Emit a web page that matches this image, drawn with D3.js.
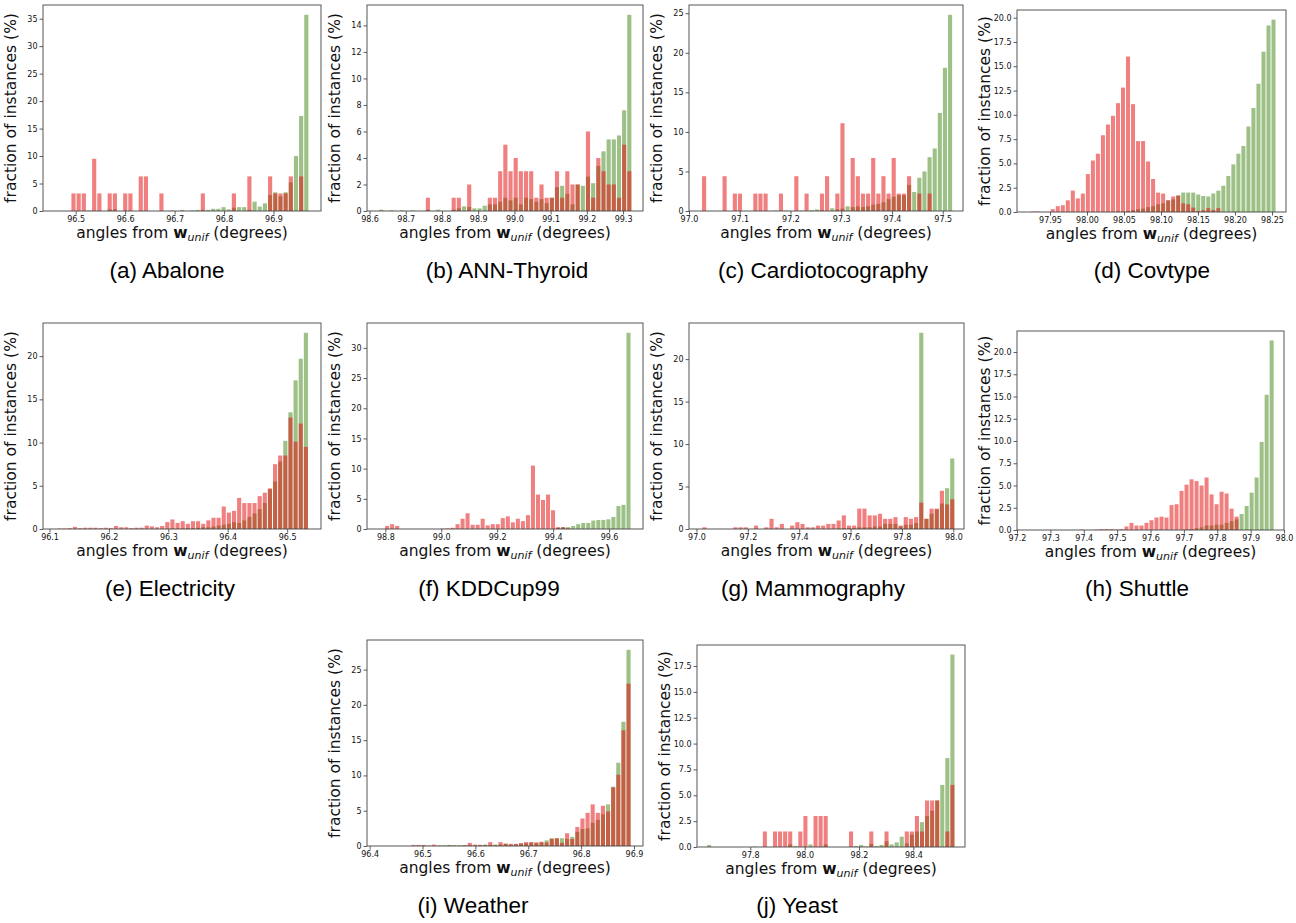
<!DOCTYPE html>
<html>
<head>
<meta charset="utf-8">
<script src="https://cdn.jsdelivr.net/npm/d3@7"></script>
<style>
  body { margin: 0; background: #fff; }
  svg { display: block; }
</style>
</head>
<body>
<div id="viz-container"></div>
<script>
// histogram heights (% of instances) per bin, green = normal, red = anomalies
const abaloneGreen = [0,0,0,0.1,0,0,0,0.3,0.3,0,0,0,0,0,0,0,0,0,0,0.1,0,0.2,0,0.1,0.2,0.2,0.2,0.4,0.4,0.7,0.3,0.6,0.7,0.7,0.2,1.7,0.8,1.4,2.9,3.4,2.7,3.4,5.2,10.0,17.3,35.7];
const abaloneRed = [3.2,3.2,3.2,0,9.5,3.2,0,3.2,3.2,0,3.2,3.2,0,6.3,6.3,0,0,3.2,0,0,0,0,0,0,0,3.2,0,0,0,0,0,3.2,0,0,6.3,0,0,0,6.3,3.2,3.2,3.2,6.3,0,6.3,0];

const thyroidGreen = [0.1,0,0.05,0,0.05,0,0.05,0,0,0.1,0,0.1,0,0,0.1,0.2,0.35,0.3,0.2,0.2,0.4,0.5,0.5,0.7,1.0,0.8,1.0,0.5,1.0,0.9,0.7,0.9,0.6,1.0,1.8,1.9,1.3,0.5,2.0,1.9,2.6,2.1,3.4,4.5,5.4,5.4,5.7,7.6,14.8];
const thyroidRed = [0,0,0,0,0,0,0,0,0,1.0,0,0,0,0,1.0,1.0,0,2.0,0,0,0,1.0,1.0,3.0,5.0,3.0,4.0,3.0,3.0,3.0,1.0,2.0,1.0,1.0,3.0,1.0,3.0,2.0,2.0,0,6.0,1.0,4.0,3.0,2.0,2.0,1.0,5.0,3.0];

const cardioGreen = [0,0,0,0,0,0,0,0,0,0,0,0,0,0,0.05,0.05,0.05,0,0,0.05,0,0.1,0.2,0.1,0,0.35,0.2,0.3,0.6,0.5,0.6,0.5,0.6,0.8,0.9,1.1,1.5,1.8,2.0,2.0,3.3,2.4,4.2,5.0,6.8,7.9,12.4,18.1,24.8];
const cardioRed = [4.4,0,0,0,4.4,0,2.2,2.2,0,0,2.2,2.2,2.2,0,0,2.2,0,0,4.4,0,2.2,0,0,2.2,4.4,0,2.2,11.1,0,6.7,4.4,2.2,2.2,6.7,2.2,4.4,2.2,6.7,2.2,2.2,4.4,0,2.2,0,2.2,0,0,0,0];

const covtypeGreen = [0,0,0,0,0,0,0,0,0,0,0,0,0,0,0,0,0,0.05,0.05,0.1,0.2,0.3,0.35,0.5,0.6,0.8,0.9,1.2,1.3,1.7,2.0,2.0,2.0,1.8,1.65,1.6,1.9,2.2,2.7,3.7,4.9,6.0,6.8,8.8,10.7,13.2,16.5,19.2,19.8];
const covtypeRed = [0.05,0.05,0,0,0.3,0.6,0.7,1.2,2.2,1.4,1.9,3.9,5.3,6.0,7.9,9.0,9.9,11.2,12.8,16.0,11.1,7.3,7.3,5.2,3.4,2.0,1.9,1.2,1.6,1.7,0.9,0.8,0.45,0.1,0.2,0.4,0.2,0.4,0,0,0,0,0,0,0,0,0,0,0];

const electricityGreen = [0,0,0,0,0,0,0,0,0,0,0,0,0,0,0,0,0,0,0,0,0,0,0.05,0.05,0.05,0.1,0.1,0.15,0.2,0.2,0.3,0.4,0.5,0.6,0.8,0.7,1.0,1.4,1.8,2.3,3.0,4.6,5.5,7.8,10.2,13.5,17.2,19.7,22.7];
const electricityRed = [0.05,0.05,0.1,0.25,0.1,0.15,0.15,0.15,0.1,0.15,0.1,0.35,0.2,0.2,0.1,0.15,0.15,0.4,0.3,0.2,0.35,0.8,1.1,0.7,0.9,0.6,0.9,0.9,0.6,1.0,1.3,1.3,2.6,1.9,2.1,3.6,3.0,3.0,3.0,3.8,4.2,4.7,7.5,8.5,8.5,12.9,10.1,12.2,9.5];

const kddGreen = [0,0,0,0,0,0,0,0,0,0,0,0,0,0,0,0,0,0,0,0,0,0,0,0,0,0,0,0,0,0,0,0,0,0,0.2,0.3,0.3,0.5,0.8,1.0,1.0,1.4,1.5,1.5,1.6,2.0,3.8,4.0,32.5];
const kddRed = [0.5,0.8,0.5,0,0,0,0,0,0,0,0,0.05,0.1,0.2,0.8,1.7,2.6,0.7,0.7,1.7,0.6,0.8,0.8,1.8,2.1,1.1,1.7,1.3,2.3,10.5,5.7,4.8,5.7,3.1,0.3,0.3,0.1,0,0,0,0,0,0,0,0,0,0,0,0];

const mammoGreen = [0,0,0,0,0,0,0,0,0,0,0,0,0,0,0,0,0,0,0,0,0,0,0,0,0,0,0.05,0.1,0.1,0.1,0.2,0.2,0.2,0.3,0.3,0.6,0.6,0.6,0.3,0.5,0.5,0.7,23.1,1.2,1.8,2.3,3.0,4.8,8.3];
const mammoRed = [0.2,0,0,0,0,0,0.2,0.2,0.2,0,0.4,0,0.2,1.2,0.2,0.6,0,0.4,0.8,0.6,0.2,0.2,0.4,0.4,0.6,0.6,1.0,1.6,0.4,0.4,2.4,2.4,1.6,1.6,1.8,1.2,1.2,1.4,0.4,1.4,1.2,1.4,3.1,1.2,2.4,2.4,4.5,2.9,3.5];

const shuttleGreen = [0,0,0,0,0,0,0,0,0,0,0,0,0,0,0,0,0,0,0,0,0,0.05,0.1,0.2,0.3,0.5,0.5,0.6,0.6,0.8,1.0,1.2,1.8,2.7,4.2,5.9,9.9,15.2,21.3];
const shuttleRed = [0.05,0,0,0.05,0.1,0.1,0.1,0.05,0.1,0.4,0.8,0.5,0.5,0.8,1.1,1.4,1.5,1.4,2.8,2.9,4.4,5.1,5.7,5.5,5.0,5.9,4.0,2.9,4.3,4.1,2.4,1.5,0,0,0,0,0,0,0];

const weatherGreen = [0,0,0,0,0,0.05,0.1,0.15,0.1,0.1,0.1,0.1,0.05,0.15,0.2,0.15,0.2,0.2,0.3,0.2,0.25,0.35,0.4,0.5,0.45,0.5,0.8,1.1,1.1,1.1,1.0,1.3,2.0,2.4,2.5,3.3,3.7,4.5,5.9,8.4,11.8,17.6,27.8];
const weatherRed = [0.15,0.15,0.15,0.05,0.2,0.05,0,0.05,0.05,0,0.1,0.45,0.2,0.15,0.1,0.55,0.1,0.55,0.35,0.3,0.3,0.4,0.55,0.55,0.5,0.6,0.5,1.0,1.1,0.45,1.8,1.0,2.7,3.9,4.7,5.9,4.7,5.7,4.9,8.3,10.1,16.4,23.0];

const yeastGreen = [0.2,0,0,0,0,0,0,0,0,0.05,0,0,0,0,0,0,0.25,0.1,0,0,0.25,0,0,0.25,0,0,0,0,0,0.1,0.2,0.05,0.3,0.1,0.2,0.55,0.25,0.45,1.0,0.35,1.2,1.5,2.4,3.0,3.5,4.5,6.0,8.6,18.6];
const yeastRed = [0,0,0,0,0,0,0,0,0,0,0,1.5,0,1.5,1.5,1.5,1.5,0,1.5,3.0,0,3.0,3.0,3.0,0,0,0,0,1.5,0,0,0,1.5,0,0,1.5,0,0,0,1.5,1.5,3.0,1.5,4.5,4.5,4.5,0,1.5,6.0];

const greenSeries = [abaloneGreen, thyroidGreen, cardioGreen, covtypeGreen, electricityGreen, kddGreen, mammoGreen, shuttleGreen, weatherGreen, yeastGreen];
const redSeries = [abaloneRed, thyroidRed, cardioRed, covtypeRed, electricityRed, kddRed, mammoRed, shuttleRed, weatherRed, yeastRed];

const captions = ["(a) Abalone", "(b) ANN-Thyroid", "(c) Cardiotocography", "(d) Covtype", "(e) Electricity",
    "(f) KDDCup99", "(g) Mammography", "(h) Shuttle", "(i) Weather", "(j) Yeast"];

// left edge of first bin and bin width (degrees)
const binStart = [96.4904, 98.6256, 97.0247, 97.9232, 96.1125, 98.7975, 97.021, 97.3855, 96.478, 97.6392];
const binWidth = [0.01046, 0.01426, 0.0101, 0.00678, 0.00864, 0.01798, 0.0201, 0.015, 0.009686, 0.01865];

const xDomains = [[96.434, 96.996], [98.593, 99.355], [97.0, 97.54], [97.9054, 98.2689], [96.089, 96.557],
    [98.7345, 99.7214], [96.971, 98.0416], [97.2, 98.0], [96.395, 96.917], [97.604, 98.59]];

const xTicks = [
    [96.5, 96.6, 96.7, 96.8, 96.9],
    [98.6, 98.7, 98.8, 98.9, 99.0, 99.1, 99.2, 99.3],
    [97.0, 97.1, 97.2, 97.3, 97.4, 97.5],
    [97.95, 98.00, 98.05, 98.10, 98.15, 98.20, 98.25],
    [96.1, 96.2, 96.3, 96.4, 96.5],
    [98.8, 99.0, 99.2, 99.4, 99.6],
    [97.0, 97.2, 97.4, 97.6, 97.8, 98.0],
    [97.2, 97.3, 97.4, 97.5, 97.6, 97.7, 97.8, 97.9, 98.0],
    [96.4, 96.5, 96.6, 96.7, 96.8, 96.9],
    [97.8, 98.0, 98.2, 98.4]
];
const yTicks = [
    [0, 5, 10, 15, 20, 25, 30, 35],
    [0, 2, 4, 6, 8, 10, 12, 14],
    [0, 5, 10, 15, 20, 25],
    [0, 2.5, 5, 7.5, 10, 12.5, 15, 17.5, 20],
    [0, 5, 10, 15, 20],
    [0, 5, 10, 15, 20, 25, 30],
    [0, 5, 10, 15, 20],
    [0, 2.5, 5, 7.5, 10, 12.5, 15, 17.5, 20],
    [0, 5, 10, 15, 20, 25],
    [0, 2.5, 5, 7.5, 10, 12.5, 15, 17.5]
];
const xFormats = [".1f", ".1f", ".1f", ".2f", ".1f", ".1f", ".1f", ".1f", ".1f", ".1f"];
const yFormats = ["d", "d", "d", ".1f", "d", "d", "d", ".1f", "d", ".1f"];

// layout: plot box [left, top, right, bottom] and caption centre
const boxes = [[43, 5, 321, 211], [367, 5, 643, 211], [689, 5, 963, 211], [1017, 10, 1286, 212],
    [43, 323, 321, 529], [367, 323, 643, 529], [689, 323, 964, 529], [1017, 331, 1284, 530],
    [367, 640, 643, 846], [697, 645, 965, 847]];
const captionPos = [[167, 278], [507, 278], [823, 278], [1152, 278], [170, 596], [489, 596],
    [813, 596], [1137, 596], [473, 913], [797, 913]];

const W = 1296, H = 923;
const greenColor = '#9dc087';
const redColor = 'rgb(226,14,14)';
const redOpacity = 0.53;

let viz = d3.select("#viz-container")
    .append("svg")
    .attr('width', W)
    .attr('height', H);

captions.forEach((cap, k) => {
    let [l, t, r, b] = boxes[k];
    let x = d3.scaleLinear().domain(xDomains[k]).range([l, r]);
    let ymax = d3.max(greenSeries[k].concat(redSeries[k])) * 1.05;
    let y = d3.scaleLinear().domain([0, ymax]).range([b, t]);
    let g = viz.append('g');

    let bw = binWidth[k];
    let barW = (x(binStart[k] + bw) - x(binStart[k])) * 0.8;
    let bins = (vals) => vals.map((v, i) => ({ v: v, c: binStart[k] + (i + 0.5) * bw })).filter(d => d.v > 0);

    g.selectAll('rect.green').data(bins(greenSeries[k])).enter()
        .append('rect')
        .attr('x', d => x(d.c) - barW / 2)
        .attr('y', d => y(d.v))
        .attr('width', barW)
        .attr('height', d => y(0) - y(d.v))
        .attr('fill', greenColor);

    g.selectAll('rect.red').data(bins(redSeries[k])).enter()
        .append('rect')
        .attr('x', d => x(d.c) - barW / 2)
        .attr('y', d => y(d.v))
        .attr('width', barW)
        .attr('height', d => y(0) - y(d.v))
        .attr('fill', redColor)
        .attr('fill-opacity', redOpacity);

    // axes
    let xAxis = g.append('g')
        .attr('transform', `translate(0,${b})`)
        .call(d3.axisBottom(x).tickValues(xTicks[k]).tickFormat(d3.format(xFormats[k])).tickSize(3.5).tickPadding(2));
    let yAxis = g.append('g')
        .attr('transform', `translate(${l},0)`)
        .call(d3.axisLeft(y).tickValues(yTicks[k]).tickFormat(d3.format(yFormats[k])).tickSize(3.5).tickPadding(2));
    [xAxis, yAxis].forEach(a => {
        a.select('.domain').remove();
        a.selectAll('line').attr('stroke', '#333').attr('stroke-width', 0.8);
        a.selectAll('text').attr('font-family', 'DejaVu Sans').attr('font-size', 8).attr('fill', '#111');
    });

    g.append('rect')
        .attr('x', l).attr('y', t)
        .attr('width', r - l).attr('height', b - t)
        .attr('fill', 'none')
        .attr('stroke', '#444')
        .attr('stroke-width', 0.9);

    // x label with bold w and italic subscript
    let xl = g.append('text')
        .attr('x', (l + r) / 2)
        .attr('y', b + 27)
        .attr('text-anchor', 'middle')
        .attr('font-family', 'DejaVu Sans')
        .attr('font-size', 15.5)
        .attr('fill', '#111');
    xl.append('tspan').text('angles from ');
    xl.append('tspan').attr('font-weight', 'bold').text('w');
    xl.append('tspan').attr('font-style', 'italic').attr('font-size', 11).attr('dy', 3).text('unif');
    xl.append('tspan').attr('dy', -3).text(' (degrees)');

    g.append('text')
        .attr('transform', `translate(${l - 27},${(t + b) / 2}) rotate(-90)`)
        .attr('text-anchor', 'middle')
        .attr('font-family', 'DejaVu Sans')
        .attr('font-size', 15.5)
        .attr('fill', '#111')
        .text('fraction of instances (%)');

    g.append('text')
        .attr('x', captionPos[k][0])
        .attr('y', captionPos[k][1])
        .attr('text-anchor', 'middle')
        .attr('font-family', 'Liberation Sans')
        .attr('font-size', 22.5)
        .attr('fill', '#000')
        .text(cap);
});
</script>
</body>
</html>
